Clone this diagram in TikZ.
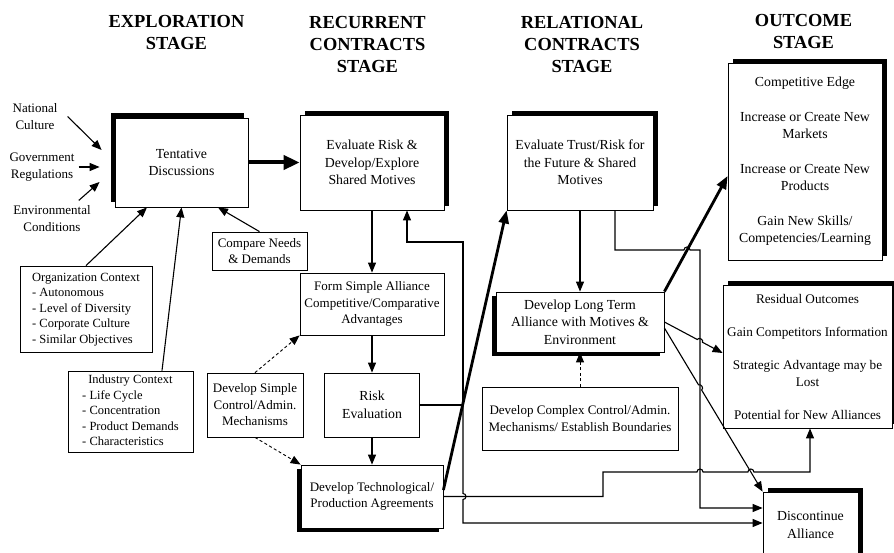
\documentclass[tikz,border=0pt]{standalone}
\usepackage{fontspec}
\setmainfont{Liberation Serif}
\usetikzlibrary{arrows.meta,shadows}

\begin{document}
\begin{tikzpicture}[x=1pt,y=1pt,
	box/.style={draw, line width=.8pt, fill=white, align=center, inner sep=0pt, font=\fontsize{13.8}{17.5}\selectfont},
	smallbox/.style={box, font=\fontsize{13}{16.5}\selectfont},
	ctxbox/.style={draw, line width=.8pt, fill=white, inner sep=0pt, font=\fontsize{12.5}{15.5}\selectfont},
	factor/.style={align=center, inner sep=0pt, font=\fontsize{13}{16.7}\selectfont},
	stagehead/.style={align=center, font=\fontsize{18.4}{22}\selectfont\bfseries},
	shadowNE/.style={drop shadow={shadow xshift=4.5pt, shadow yshift=4pt, fill=black, opacity=1}},
	shadowNW/.style={drop shadow={shadow xshift=-4.5pt, shadow yshift=4.5pt, fill=black, opacity=1}},
	shadowSW/.style={drop shadow={shadow xshift=-4.5pt, shadow yshift=-4pt, fill=black, opacity=1}},
	conn/.style={line width=1.1pt, -{Triangle[length=10pt,width=8pt]}},
	dashconn/.style={conn, line width=.9pt, dash pattern=on 3pt off 2.5pt},
	bigconn/.style={line width=4pt, -{Triangle[length=16pt,width=14pt]}},
	thickconn/.style={line width=2.8pt, -{Triangle[length=13pt,width=10pt]}}
]
	\useasboundingbox[fill=white] (0,0) rectangle (894,552);

	% stage headings
	\node[stagehead] (hexpl) at (176.5,519.5) {EXPLORATION\\STAGE};
	\node[stagehead] (hrecur) at (367.5,507.5) {RECURRENT\\CONTRACTS\\STAGE};
	\node[stagehead] (hrel) at (582,507.5) {RELATIONAL\\CONTRACTS\\STAGE};
	\node[stagehead] (hout) at (803.5,520.5) {OUTCOME\\STAGE};

	% exploration stage
	\node[factor] (natl) at (35,435.5) {National\\Culture};
	\node[factor] (govt) at (42,385) {Government\\Regulations};
	\node[factor] (envir) at (52,333.5) {Environmental\\Conditions};
	\node[box, shadowNW, minimum width=133pt, minimum height=89pt] (tent) at (181.5,389.5) {Tentative\\Discussions};
	\node[smallbox, minimum width=95pt, minimum height=38pt] (compare) at (259.5,301) {Compare Needs\\\& Demands};
	\node[ctxbox, minimum width=132pt, minimum height=86pt] (org) at (86,243) {
	\begin{tabular}{@{}l@{}}
		\multicolumn{1}{@{}c@{}}{Organization Context} \\
		- Autonomous \\
		- Level of Diversity \\
		- Corporate Culture \\
		- Similar Objectives \\
	\end{tabular}
	};
	\node[ctxbox, minimum width=125pt, minimum height=81pt] (ind) at (130.5,140.5) {
	\begin{tabular}{@{}l@{}}
		\multicolumn{1}{@{}c@{}}{Industry Context} \\
		- Life Cycle \\
		- Concentration \\
		- Product Demands \\
		- Characteristics \\
	\end{tabular}
	};
	\node[smallbox, minimum width=96pt, minimum height=64pt] (simple) at (255,147) {Develop Simple\\Control/Admin.\\Mechanisms};

	% recurrent contracts stage
	\node[box, shadowNE, minimum width=144pt, minimum height=95pt] (evalrisk) at (372,389.5) {Evaluate Risk \&\\Develop/Explore\\Shared Motives};
	\node[smallbox, minimum width=144pt, minimum height=62pt] (form) at (372,248) {Form Simple Alliance\\Competitive/Comparative\\Advantages};
	\node[box, minimum width=95pt, minimum height=64pt] (riskev) at (372,147) {Risk\\Evaluation};
	\node[smallbox, shadowSW, minimum width=142pt, minimum height=63pt] (tech) at (372,55.5) {Develop Technological/\\Production Agreements};

	% relational contracts stage
	\node[box, shadowNE, minimum width=146pt, minimum height=95pt] (evaltrust) at (580,389.5) {Evaluate Trust/Risk for\\the Future \& Shared\\Motives};
	\node[box, shadowSW, minimum width=168pt, minimum height=60pt] (longterm) at (580,230) {Develop Long Term\\Alliance with Motives \&\\Environment};
	\node[smallbox, minimum width=196pt, minimum height=63pt] (complex) at (580,133.5) {Develop Complex Control/Admin.\\Mechanisms/ Establish Boundaries};

	% outcome stage
	\node[box, shadowNE, minimum width=154pt, minimum height=197pt] (outcome) at (805,390.5) {Competitive Edge\\[17pt]Increase or Create New\\Markets\\[17pt]Increase or Create New\\Products\\[17pt]Gain New Skills/\\Competencies/Learning};
	\node[box, shadowNE, minimum width=169pt, minimum height=143pt, font=\fontsize{13.2}{17}\selectfont] (residual) at (807.5,195.5) {Residual Outcomes\\[16pt]Gain Competitors Information\\[16pt]Strategic Advantage may be\\Lost\\[16pt]Potential for New Alliances};
	\node[box, shadowNE, minimum width=95pt, minimum height=66pt] (discont) at (810.5,27) {Discontinue\\Alliance};

	% inputs to the discussions
	\draw[conn] ([xshift=10pt]natl.east) -- ([shift={(-13,12.5)}]tent.west);
	\draw[conn] ([xshift=4pt]govt.east) -- ([shift={(-15,-4.5)}]tent.west);
	\draw[conn] ([shift={(-12,5)}]envir.north east) -- ([shift={(-15,-19.5)}]tent.west);
	\draw[conn] (org.north) -- ([xshift=-34.5pt]tent.south);
	\draw[conn] ([xshift=31.5pt]ind.north) -- (tent.south);
	\draw[conn] (compare.north) -- ([xshift=36.5pt]tent.south);
	\draw[bigconn] (tent) -- (evalrisk);

	% recurrent column
	\draw[conn] (evalrisk) -- (form);
	\draw[conn] (form) -- (riskev);
	\draw[conn] (riskev) -- (tech);
	\draw[dashconn] (simple.north) -- (form.south west);
	\draw[dashconn] (simple.south) -- (tech.north west);
	\coordinate (bus) at (463,147);
	\draw[conn] (riskev.east) -- (bus) |- (407,310) -- ([xshift=35pt]evalrisk.south);
	\draw[conn] (bus) -- ++(0,-88.5) arc[start angle=90, end angle=-90, radius=3] |- ([yshift=2pt]discont.west);
	\draw[conn] (tech.east) -| (603,80) -- (697,80) arc[start angle=180, end angle=0, radius=3]
		-- (747.9,80) arc[start angle=180, end angle=0, radius=3] -| ([xshift=2.5pt]residual.south);
	\draw[thickconn] ([yshift=6.5pt]tech.east) -- (evaltrust.south west);

	% relational column
	\draw[conn] (evaltrust) -- (longterm);
	\draw[dashconn] (complex) -- (longterm);
	\draw[conn] ([xshift=35pt]evaltrust.south) |- (684,302) arc[start angle=180, end angle=0, radius=3]
		-| (700,44) -- ([yshift=17pt]discont.west);
	\draw[thickconn] (longterm.north east) -- ([yshift=-14.5pt]outcome.west);
	\path (longterm.east) -- ([yshift=3.5pt]residual.west) coordinate[pos=.565] (jra) coordinate[pos=.655] (jrb);
	\draw[conn] (longterm.east) -- (jra) to[bend left=90, looseness=1.3] (jrb) -- ([yshift=3.5pt]residual.west);
	\path ([yshift=-6pt]longterm.east) -- (discont.north west) coordinate[pos=.348] (jda) coordinate[pos=.379] (jdb);
	\draw[conn] ([yshift=-6pt]longterm.east) -- (jda) to[bend left=90, looseness=1.3] (jdb) -- (discont.north west);
\end{tikzpicture}
\end{document}
